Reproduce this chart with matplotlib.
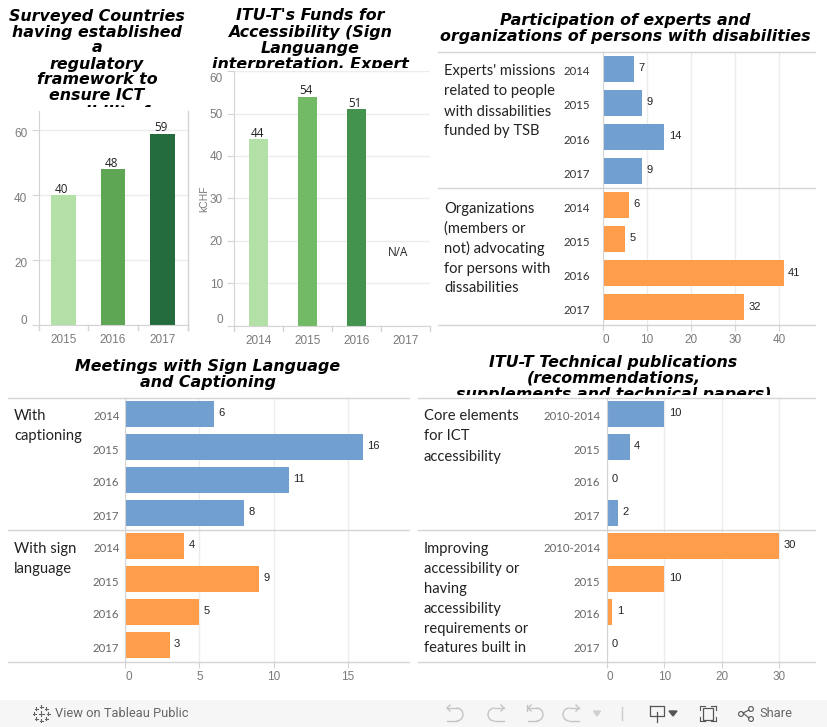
import matplotlib
matplotlib.use("Agg")
import matplotlib.pyplot as plt
from matplotlib.patches import Rectangle, Arc, Circle
from matplotlib.transforms import ScaledTranslation

W, H, DPI = 827, 727, 100
TITLE = dict(family="DejaVu Sans", weight="bold", style="italic", color="black")
GRID, AXC, TICKC = "#ececec", "#d4d4d4", "#7a7a7a"
BLUE, ORANGE = "#719fd0", "#ff9d4a"

# ---- data ----
countries_years = ["2015", "2016", "2017"]
countries_values = [40, 48, 59]
countries_colors = ["#b3e0a6", "#5ea654", "#246b3d"]

funds_years = ["2014", "2015", "2016", "2017"]
funds_values = [44, 54, 51, None]
funds_colors = ["#b3e0a6", "#73ba67", "#43934f", "#246b3d"]

years = ["2014", "2015", "2016", "2017"]
missions_values = [7, 9, 14, 9]
organizations_values = [6, 5, 41, 32]
captioning_values = [6, 16, 11, 8]
sign_values = [4, 9, 5, 3]
pub_years = ["2010-2014", "2015", "2016", "2017"]
core_values = [10, 4, 0, 2]
improving_values = [30, 10, 1, 0]

fig = plt.figure(figsize=(W / DPI, H / DPI), dpi=DPI, facecolor="white")

def axpx(x0, y0, x1, y1, **kw):
    return fig.add_axes([x0 / W, 1 - y1 / H, (x1 - x0) / W, (y1 - y0) / H], **kw)

def shift_down(label, px):
    label.set_transform(label.get_transform() + ScaledTranslation(0, -px / DPI, fig.dpi_scale_trans))

# overlay in pixel coordinates for furniture
ov = axpx(0, 0, W, H, zorder=5)
ov.set_xlim(0, W); ov.set_ylim(H, 0); ov.axis("off"); ov.patch.set_alpha(0)

def title(cx, top, lines, clip_bottom, size=11.45, step=16):
    for i, line in enumerate(lines):
        t = ov.text(cx, top + i * step, line, ha="center", va="center", fontsize=size, **TITLE)
        t.set_clip_path(Rectangle((0, 0), W, clip_bottom, transform=ov.transData))
        t.set_clip_on(True)

def vbar(box, cats, vals, cols, ymax, yticks, width, ylabel=None, top_inside=False, label_shift=0):
    ax = axpx(*box)
    ax.set_xlim(-0.5, len(cats) - 0.5)
    ax.set_ylim(0, ymax)
    ax.set_axisbelow(True)
    ax.yaxis.grid(True, color=GRID, lw=1)
    for i, (v, c) in enumerate(zip(vals, cols)):
        if v is None:
            ax.annotate("N/A", (i, 20), xytext=(-5.5, -8), textcoords="offset points",
                        ha="center", va="center", fontsize=8.4, family="Open Sans", color="#222222")
            continue
        ax.bar(i, v, width=width, color=c, zorder=2)
        ax.annotate(str(v), (i, v), xytext=(-1, -0.5), textcoords="offset points",
                    ha="center", va="bottom", fontsize=8.4, family="Open Sans", color="#222222")
    for s in ("top", "right"):
        ax.spines[s].set_visible(False)
    for s in ("left", "bottom"):
        ax.spines[s].set_color(AXC)
    ax.set_xticks(range(len(cats)), cats, family="Liberation Sans", fontsize=8.5, color=TICKC)
    ax.set_yticks(yticks, [str(v) for v in yticks], family="Liberation Sans", fontsize=8.5, color=TICKC)
    ax.tick_params(axis="x", length=0, pad=6.5)
    ax.tick_params(axis="y", length=5, color=AXC, pad=3)
    ax.yaxis.get_major_ticks()[0].label1.set_verticalalignment("bottom")
    if label_shift:
        for lab in ax.get_yticklabels():
            shift_down(lab, label_shift)
    if top_inside:
        top = ax.yaxis.get_major_ticks()[-1].label1
        top.set_verticalalignment("top")
        shift_down(top, 2)
    for i in range(len(cats) + 1):
        ax.plot([i - 0.5, i - 0.5], [0, -5 / (box[3] - box[1]) * ymax], color=AXC, lw=1, clip_on=False)
    if ylabel:
        ax.set_ylabel(ylabel, family="Liberation Sans", fontsize=7.5, color=TICKC, labelpad=0)
    return ax

def hpanel(x0, x1, y0, y1, xmax, cats, vals, color, xticks, show_x=False, ypad=4, ycolor="#666666"):
    ax = axpx(x0, y0, x1, y1)
    ax.set_ylim(3.5, -0.5)
    ax.set_axisbelow(True)
    ax.xaxis.grid(True, color=GRID, lw=1)
    ax.barh(range(len(vals)), vals, height=0.76, color=color, zorder=2)
    for i, v in enumerate(vals):
        ax.annotate(str(v), (v, i), xytext=(3.2, 0.5), textcoords="offset points", ha="left",
                    va="center", fontsize=8, family="Liberation Sans", color="#222222")
    for s in ("top", "right", "bottom"):
        ax.spines[s].set_visible(False)
    ax.spines["left"].set_color(AXC)
    ax.set_yticks(range(len(cats)), cats, family="Lato", fontsize=8.2, color=ycolor)
    ax.tick_params(axis="y", length=0, pad=ypad)
    for lab in ax.get_yticklabels():
        shift_down(lab, 2)
    if show_x:
        ax.set_xticks(xticks, [str(v) for v in xticks], family="Liberation Sans", fontsize=8.5, color=TICKC)
        ax.tick_params(axis="x", length=4, color=AXC, pad=3)
        ax.xaxis.get_major_ticks()[0].label1.set_horizontalalignment("left")
    else:
        ax.set_xticks(xticks, [""] * len(xticks))
        ax.tick_params(axis="x", length=0)
    ax.set_xlim(0, xmax)
    return ax

def rules(x0, x1, ys):
    for y in ys:
        ov.plot([x0, x1], [y, y], color=AXC, lw=1)

def rowlabel(x, y, lines):
    for i, line in enumerate(lines):
        ov.text(x, y + i * 20, line, ha="left", va="center", fontsize=10.6, family="Lato", color="#222222")

# ---- chart 1 ----
title(97, 16, ["Surveyed Countries", "having established", "a", "regulatory", "framework to",
               "ensure ICT", "accessibility for"], 107)
vbar((38.5, 111, 187.5, 325), countries_years, countries_values, countries_colors, 66, [0, 20, 40, 60], 0.5,
     label_shift=2)
ov.plot([187.5, 187.5], [111, 330], color=AXC, lw=1)

# ---- chart 2 ----
title(310, 16, ["ITU-T's Funds for", "Accessibility (Sign", "Languange", "interpretation, Expert"], 68)
vbar((234, 71, 430, 326), funds_years, funds_values, funds_colors, 60, [0, 10, 20, 30, 40, 50, 60], 0.39,
     ylabel="kCHF", top_inside=True)

# ---- chart 3 ----
ticks3 = [0, 10, 20, 30, 40]
title(625.5, 20, ["Participation of experts and", "organizations of persons with disabilities"], 60)
hpanel(602.7, 815, 52, 188, 48.1, years, missions_values, BLUE, ticks3, ypad=9.4, ycolor="#333333")
hpanel(602.7, 815, 188, 324.5, 48.1, years, organizations_values, ORANGE, ticks3, show_x=True, ypad=9.4, ycolor="#333333")
rules(438, 815, [51.5, 188, 324.5])
rowlabel(444, 71.5, ["Experts' missions", "related to people", "with dissabilities", "funded by TSB"])
rowlabel(444, 208.5, ["Organizations", "(members or", "not) advocating", "for persons with", "dissabilities"])

# ---- chart 4 ----
ticks4 = [0, 5, 10, 15]
title(208, 366, ["Meetings with Sign Language", "and Captioning"], 395)
hpanel(125, 409, 397.5, 529.5, 19.1, years, captioning_values, BLUE, ticks4, ypad=4)
hpanel(125, 409, 529.5, 661.5, 19.1, years, sign_values, ORANGE, ticks4, show_x=True, ypad=4)
rules(8, 409, [397.5, 529.5, 661.5])
rowlabel(14, 416, ["With", "captioning"])
rowlabel(14, 548.5, ["With sign", "language"])

# ---- chart 5 ----
ticks5 = [0, 10, 20, 30]
title(613.5, 362, ["ITU-T Technical publications", "(recommendations,",
                   "supplements and technical papers)"], 395)
hpanel(606.7, 815, 397.5, 529.5, 36.2, pub_years, core_values, BLUE, ticks5, ypad=4.7)
hpanel(606.7, 815, 529.5, 661.5, 36.2, pub_years, improving_values, ORANGE, ticks5, show_x=True, ypad=4.7)
rules(418, 815, [397.5, 529.5, 661.5])
rowlabel(424, 416.5, ["Core elements", "for ICT", "accessibility"])
rowlabel(424, 548.5, ["Improving", "accessibility or", "having", "accessibility", "requirements or", "features built in"])

# ---- footer ----
ov.add_patch(Rectangle((0, 700), W, 27, color="#f6f6f6", lw=0))
FC = "#666666"
for dx, dy, s in [(0, 0, 5), (-7, 0, 3), (7, 0, 3), (0, -7, 3), (0, 7, 3), (-5, -5, 3), (5, -5, 3), (-5, 5, 3), (5, 5, 3)]:
    ov.plot([41 + dx - s / 2, 41 + dx + s / 2], [713.5 + dy] * 2, color=FC, lw=0.8)
    ov.plot([41 + dx] * 2, [713.5 + dy - s / 2, 713.5 + dy + s / 2], color=FC, lw=0.8)
ov.text(55, 713.5, "View on Tableau Public", ha="left", va="center", fontsize=9.3, family="Roboto", color=FC)

ICON = "#c4c4c4"
def undo_icon(x0, x1, right_bulge=True):
    r = 6.5
    ymid = 714.5
    if right_bulge:
        cx = x1 - r
        ov.add_patch(Arc((cx, ymid), 2 * r, 2 * r, theta1=-90, theta2=90, color=ICON, lw=1))
        ov.plot([x0, cx], [ymid - r] * 2, color=ICON, lw=1)
        ov.plot([x0, cx], [ymid + r] * 2, color=ICON, lw=1)
        ov.plot([x0 + 3, x0, x0 + 3], [ymid - r - 3, ymid - r, ymid - r + 3], color=ICON, lw=1)
    else:
        cx = x0 + r
        ov.add_patch(Arc((cx, ymid), 2 * r, 2 * r, theta1=90, theta2=270, color=ICON, lw=1))
        ov.plot([cx, x1], [ymid - r] * 2, color=ICON, lw=1)
        ov.plot([cx, x1], [ymid + r] * 2, color=ICON, lw=1)
        ov.plot([x1 - 3, x1, x1 - 3], [ymid - r - 3, ymid - r, ymid - r + 3], color=ICON, lw=1)
undo_icon(447, 463, True)
undo_icon(488, 504, False)
undo_icon(528, 543, True)
ov.plot([527, 527], [705, 711], color=ICON, lw=1)
undo_icon(563, 579, False)
ov.fill([593.5, 600.5, 597], [711, 711, 716], color="#d0d0d0")
ov.plot([621.5, 621.5], [707, 720], color="#cccccc", lw=1)
ov.plot([650, 650, 664, 664, 650], [706, 716, 716, 706, 706], color="#555555", lw=0.9)
ov.plot([657, 657], [712, 722], color="#555555", lw=0.9)
ov.fill([669, 677, 673], [711, 711, 716], color="#555555")
ov.add_patch(Rectangle((703, 708), 10, 12, fill=False, ec="#555555", lw=0.9))
for a, b in [((700, 710), (700, 706)), ((700, 706), (705, 706)), ((711, 706), (716, 706)), ((716, 706), (716, 710)),
             ((700, 717), (700, 721)), ((700, 721), (705, 721)), ((711, 721), (716, 721)), ((716, 721), (716, 717))]:
    ov.plot([a[0], b[0]], [a[1], b[1]], color="#555555", lw=0.8)
for c in [(741, 714), (751, 709), (751, 719)]:
    ov.add_patch(Circle(c, 2.4, fill=False, ec="#555555", lw=0.8))
ov.plot([749, 743, 749], [710, 713, 718], color="#555555", lw=0.8)
ov.text(759, 713.5, "Share", ha="left", va="center", fontsize=9.3, family="Roboto", color=FC)

fig.savefig("out.png", dpi=DPI)
